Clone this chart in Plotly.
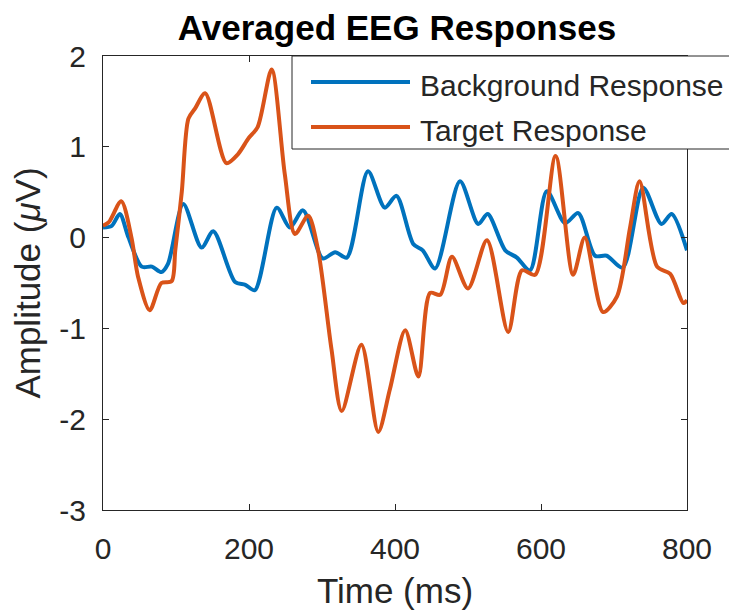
import plotly.graph_objects as go

# ---- data ----
bg_t = [0, 12, 23, 35, 53, 67, 80, 89, 110, 135, 151, 181, 195, 208, 238, 256, 274,
        301, 318, 334, 363, 386, 402, 425, 438, 455, 489, 514, 527, 551, 567, 585,
        608, 633, 651, 674, 690, 712, 740, 765, 779, 800]
bg_v = [0.11, 0.13, 0.26, 0.0, -0.32, -0.32, -0.38, -0.29, 0.37, -0.11, 0.07, -0.49,
        -0.52, -0.58, 0.33, 0.11, 0.30, -0.23, -0.16, -0.22, 0.73, 0.33, 0.46, -0.07,
        -0.14, -0.34, 0.62, 0.15, 0.26, -0.14, -0.22, -0.36, 0.51, 0.16, 0.27, -0.20,
        -0.20, -0.33, 0.55, 0.15, 0.26, -0.14]

tg_t = [0, 8, 25, 39, 48, 64, 80, 94, 99, 108, 117, 126, 140, 169, 185, 199, 212, 231,
        249, 263, 281, 294, 313, 327, 354, 377, 393, 414, 432, 448, 462, 478, 500, 526,
        555, 574, 592, 620, 644, 660, 685, 704, 722, 735, 759, 777, 795, 800]
tg_v = [0.13, 0.17, 0.40, 0.0, -0.43, -0.80, -0.50, -0.48, -0.14, 0.51, 1.31, 1.42,
        1.59, 0.82, 0.92, 1.09, 1.22, 1.85, 0.70, 0.04, 0.24, -0.11, -1.23, -1.91, -1.18,
        -2.14, -1.67, -1.02, -1.53, -0.61, -0.63, -0.21, -0.56, -0.03, -1.04, -0.36,
        -0.41, 0.90, -0.41, 0.00, -0.82, -0.65, 0.11, 0.62, -0.32, -0.40, -0.72, -0.69]

series_names = ["Background Response", "Target Response"]
series_colors = ["#0072BD", "#D95319"]

x_ticks = [0, 200, 400, 600, 800]
x_tick_text = ["0", "200", "400", "600", "800"]
y_ticks = [-3, -2, -1, 0, 1, 2]
y_tick_text = ["-3", "-2", "-1", "0", "1", "2"]

FONT = "Liberation Sans, Arial, Helvetica, sans-serif"
AX = "#262626"

fig = go.Figure()
for t, v, name, col in [(bg_t, bg_v, series_names[0], series_colors[0]),
                        (tg_t, tg_v, series_names[1], series_colors[1])]:
    fig.add_trace(go.Scatter(x=t, y=v, mode="lines", name=name,
                             line=dict(color=col, width=4, shape="spline", smoothing=0.8),
                             showlegend=False))

# manual MATLAB-style legend (box extends past the right edge as in the reference)
W, H = 729, 615
L, R, T, B = 103, 42, 56, 105
pw, ph = W - L - R, H - T - B
px = lambda p: (p - L) / pw
py = lambda p: (H - B - p) / ph

bx0, bx1, by0, by1 = px(292), px(800), py(149), py(56)
shapes = [
    dict(type="rect", xref="paper", yref="paper", x0=bx0, x1=bx1, y0=by0, y1=by1,
         fillcolor="white", line=dict(width=0), layer="above"),
    dict(type="line", xref="paper", yref="paper", x0=bx0, x1=bx1, y0=by1, y1=by1,
         line=dict(color=AX, width=1), layer="above"),
    dict(type="line", xref="paper", yref="paper", x0=bx0, x1=bx1, y0=by0, y1=by0,
         line=dict(color=AX, width=1), layer="above"),
    dict(type="line", xref="paper", yref="paper", x0=bx0, x1=bx0, y0=by0, y1=by1,
         line=dict(color=AX, width=1), layer="above"),
]
annotations = []
for i, (name, col) in enumerate(zip(series_names, series_colors)):
    yy = [82, 127][i]
    shapes.append(dict(type="line", xref="paper", yref="paper", x0=px(311), x1=px(410),
                       y0=py(yy), y1=py(yy), line=dict(color=col, width=4), layer="above"))
    annotations.append(dict(xref="paper", yref="paper", x=px(418), y=py(yy + 3),
                            text=name, showarrow=False, xanchor="left", yanchor="middle",
                            font=dict(family=FONT, size=30, color=AX)))

fig.update_layout(
    width=W, height=H,
    margin=dict(l=L, r=R, t=T, b=B),
    paper_bgcolor="white", plot_bgcolor="white",
    title=dict(text="<b>Averaged EEG Responses</b>", x=(397) / W, xanchor="center",
               y=1 - 28 / H, yanchor="middle", yref="container",
               font=dict(family=FONT, size=35, color="black")),
    shapes=shapes, annotations=annotations,
    showlegend=False,
)
fig.update_xaxes(range=[0, 800], tickvals=x_ticks, ticktext=x_tick_text, ticks="inside",
                 ticklen=6, ticklabelstandoff=12,
                 tickcolor=AX, showline=True, linecolor=AX, linewidth=1, mirror="allticks",
                 showgrid=False, zeroline=False,
                 tickfont=dict(family=FONT, size=30, color=AX),
                 title=dict(text="Time (ms)", font=dict(family=FONT, size=35, color=AX),
                            standoff=14))
fig.update_yaxes(range=[-3, 2], tickvals=y_ticks, ticktext=y_tick_text, ticks="inside",
                 ticklen=6, ticklabelstandoff=10,
                 tickcolor=AX, showline=True, linecolor=AX, linewidth=1, mirror="allticks",
                 showgrid=False, zeroline=False,
                 tickfont=dict(family=FONT, size=30, color=AX),
                 title=dict(text="Amplitude (<i>μ</i>V)", font=dict(family=FONT, size=35, color=AX),
                            standoff=8))

fig.write_html("out.html")
